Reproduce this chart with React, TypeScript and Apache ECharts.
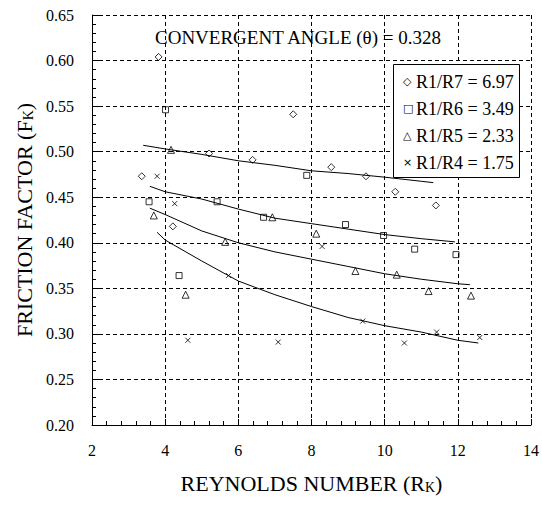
import React, { useEffect, useRef } from "react";
import * as echarts from "echarts";

// Measured friction factor (Fk) against Reynolds number (Rk) for four radius ratios.
const r7X = [3.36, 3.82, 4.21, 5.2, 6.39, 7.5, 8.54, 9.49, 10.29, 11.4];
const r7Y = [0.473, 0.604, 0.418, 0.498, 0.491, 0.541, 0.483, 0.473, 0.456, 0.441];
const r6X = [3.56, 4.01, 4.38, 5.42, 6.69, 7.87, 8.93, 9.97, 10.82, 11.95];
const r6Y = [0.445, 0.546, 0.364, 0.445, 0.428, 0.474, 0.42, 0.408, 0.393, 0.387];
const r5X = [3.69, 4.16, 4.56, 5.64, 6.93, 8.13, 9.2, 10.33, 11.2, 12.36];
const r5Y = [0.43, 0.502, 0.343, 0.401, 0.428, 0.41, 0.369, 0.365, 0.347, 0.342];
const r4X = [3.78, 4.26, 4.62, 5.73, 7.09, 8.29, 9.4, 10.54, 11.42, 12.6];
const r4Y = [0.473, 0.443, 0.293, 0.364, 0.291, 0.396, 0.314, 0.29, 0.302, 0.296];

// Trend curves traced through each data set.
const fit7X = [3.4, 4, 5, 6, 7, 8, 9, 10, 11, 11.33];
const fit7Y = [0.507, 0.503, 0.497, 0.49, 0.485, 0.479, 0.476, 0.472, 0.4675, 0.466];
const fit6X = [3.58, 4, 5, 6, 7, 8, 9, 10, 11, 11.92];
const fit6Y = [0.462, 0.456, 0.448, 0.437, 0.427, 0.421, 0.415, 0.409, 0.4045, 0.401];
const fit5X = [3.58, 4, 5, 6, 7, 8, 9, 10, 11, 12, 12.33];
const fit5Y = [0.438, 0.431, 0.413, 0.4, 0.39, 0.382, 0.374, 0.366, 0.36, 0.355, 0.354];
const fit4X = [3.78, 4, 5, 6, 7, 8, 9, 10, 11, 12, 12.56];
const fit4Y = [0.4115, 0.403, 0.38, 0.358, 0.343, 0.33, 0.318, 0.309, 0.302, 0.293, 0.29];

const seriesNames = ["R1/R7 = 6.97", "R1/R6 = 3.49", "R1/R5 = 2.33", "R1/R4 = 1.75"];
const keyGlyphs = ["◇", "□", "△", "×"];
const chartTitle = "CONVERGENT ANGLE (θ) = 0.328";

const FONT = "'Liberation Serif', 'Times New Roman', serif";
const CROSS = "path://M0,0L10,10M10,0L0,10";
const BLACK = "#000";

const pair = (xs: number[], ys: number[]) => xs.map((x, i) => [x, ys[i]]);
const stroke = () => ({ color: BLACK, width: 1 });

export default function App() {
  const ref = useRef<HTMLDivElement>(null);

  useEffect(() => {
    document.body.style.margin = "0";
    if (!ref.current) return;
    const chart = echarts.init(ref.current, null, { renderer: "svg" });

    const scatter = (name: string, xs: number[], ys: number[], symbol: string, size: number) => ({
      name,
      type: "scatter",
      data: pair(xs, ys),
      symbol,
      symbolSize: size,
      itemStyle: { color: "transparent", borderColor: BLACK, borderWidth: 1 },
      z: 3,
    });
    const curve = (id: string, xs: number[], ys: number[]) => ({
      id,
      type: "line",
      data: pair(xs, ys),
      showSymbol: false,
      symbol: "none",
      smooth: false,
      lineStyle: { color: BLACK, width: 1 },
      z: 2,
    });

    const nameStyle = () => ({
      color: BLACK,
      fontSize: 22,
      fontFamily: FONT,
      rich: {
        m: { color: BLACK, fontSize: 22, fontFamily: FONT },
        s: { color: BLACK, fontSize: 14, fontFamily: FONT, verticalAlign: "bottom" },
      },
    });

    // key box: one line per data set, marker glyph followed by its label
    const keyText = seriesNames.map((n, i) => `{g|${keyGlyphs[i]}}{t|${n}}`).join("\n");

    chart.setOption({
      animation: false,
      grid: { left: 92, top: 15, width: 441, height: 410 },
      title: [
        {
          text: chartTitle,
          left: 155,
          top: 28,
          padding: 0,
          textStyle: { color: BLACK, fontSize: 19, fontFamily: FONT, fontWeight: "normal" },
        },
        {
          text: keyText,
          left: 393,
          top: 64,
          padding: [4, 6, 2, 10],
          backgroundColor: "#fff",
          borderColor: BLACK,
          borderWidth: 1,
          textStyle: {
            color: BLACK,
            fontSize: 18,
            fontFamily: FONT,
            fontWeight: "normal",
            lineHeight: 27,
            rich: {
              g: {
                color: BLACK,
                fontSize: 11,
                fontFamily: "'DejaVu Sans', sans-serif",
                fontWeight: "normal",
                lineHeight: 27,
                width: 13,
                align: "left",
              },
              t: {
                color: BLACK,
                fontSize: 18,
                fontFamily: FONT,
                fontWeight: "normal",
                lineHeight: 27,
              },
            },
          },
        },
      ],
      xAxis: {
        type: "value",
        min: 2,
        max: 14,
        interval: 2,
        name: "{m|REYNOLDS NUMBER (R}{s|K}{m|)}",
        nameLocation: "middle",
        nameGap: 47,
        nameTextStyle: nameStyle(),
        axisLine: { show: true, lineStyle: stroke() },
        axisTick: { show: true, inside: true, length: 6, lineStyle: stroke() },
        minorTick: { show: true, splitNumber: 5, length: 4, lineStyle: stroke() },
        splitLine: { show: true, lineStyle: { color: BLACK, type: [4, 3], width: 1 } },
        axisLabel: { color: BLACK, fontSize: 16, fontFamily: FONT, margin: 17 },
      },
      yAxis: {
        type: "value",
        min: 0.2,
        max: 0.65,
        interval: 0.05,
        name: "{m|FRICTION FACTOR (F}{s|K}{m|)}",
        nameLocation: "middle",
        nameGap: 54,
        nameTextStyle: nameStyle(),
        axisLine: { show: true, lineStyle: stroke() },
        axisTick: { show: true, inside: true, length: 7, lineStyle: stroke() },
        minorTick: { show: true, splitNumber: 5, length: 4, lineStyle: stroke() },
        splitLine: { show: true, lineStyle: { color: BLACK, type: [4, 3], width: 1 } },
        axisLabel: {
          color: BLACK,
          fontSize: 16,
          fontFamily: FONT,
          margin: 18,
          formatter: (v: number) => v.toFixed(2),
        },
      },
      series: [
        scatter(seriesNames[0], r7X, r7Y, "diamond", 7),
        scatter(seriesNames[1], r6X, r6Y, "rect", 6),
        scatter(seriesNames[2], r5X, r5Y, "triangle", 7),
        scatter(seriesNames[3], r4X, r4Y, CROSS, 5),
        curve("curve-r7", fit7X, fit7Y),
        curve("curve-r6", fit6X, fit6Y),
        curve("curve-r5", fit5X, fit5Y),
        curve("curve-r4", fit4X, fit4Y),
      ],
    });

    return () => chart.dispose();
  }, []);

  return <div ref={ref} style={{ width: 542, height: 506 }} />;
}
